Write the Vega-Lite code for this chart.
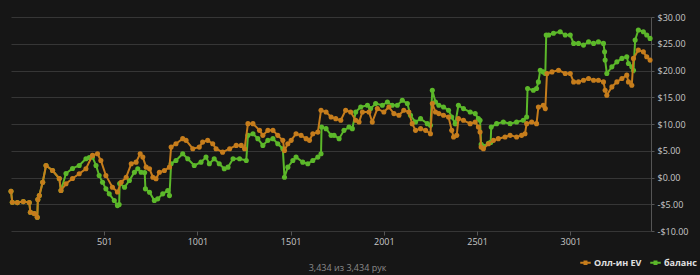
{
  "$schema": "https://vega.github.io/schema/vega-lite/v6.json",
  "width": 640,
  "height": 214,
  "autosize": {"type": "none"},
  "padding": {"left": 11, "top": 17, "right": 49, "bottom": 44},
  "background": "#161616",
  "config": {
    "view": {"stroke": null},
    "font": "Open Sans",
    "axis": {"labelFont": "Open Sans", "labelColor": "#c8c8c8", "labelFontSize": 9, "gridColor": "#363636", "gridWidth": 1, "tickColor": "#555555", "domainColor": "#555555"}
  },
  "datasets": {
    "ev": [
      {"h":1,"v":-2.57},{"h":8,"v":-4.63},{"h":35,"v":-4.69},{"h":67,"v":-4.5},{"h":99,"v":-4.69},{"h":105,"v":-6.5},{"h":126,"v":-6.75},{"h":142,"v":-7.44},{"h":145,"v":-4.13},{"h":153,"v":-3.38},{"h":171,"v":-0.88},{"h":189,"v":2.25},{"h":224,"v":1.31},{"h":260,"v":-0.19},{"h":269,"v":-2.44},{"h":296,"v":-1.18},{"h":331,"v":-0.19},{"h":367,"v":0.69},{"h":403,"v":1.63},{"h":438,"v":4.13},{"h":465,"v":4.44},{"h":483,"v":3.19},{"h":510,"v":0.38},{"h":545,"v":-1.82},{"h":572,"v":-2.72},{"h":592,"v":-0.88},{"h":619,"v":0.06},{"h":646,"v":2.57},{"h":672,"v":2.87},{"h":694,"v":4.44},{"h":708,"v":3.81},{"h":726,"v":1.93},{"h":744,"v":1.63},{"h":762,"v":0.06},{"h":779,"v":-0.24},{"h":797,"v":0.99},{"h":824,"v":1.31},{"h":851,"v":1.93},{"h":860,"v":5.68},{"h":886,"v":6.32},{"h":922,"v":7.26},{"h":940,"v":6.94},{"h":976,"v":5.38},{"h":1011,"v":5.68},{"h":1029,"v":6.62},{"h":1056,"v":6.94},{"h":1083,"v":6.32},{"h":1101,"v":5.38},{"h":1136,"v":4.74},{"h":1174,"v":5.38},{"h":1209,"v":6.0},{"h":1236,"v":6.0},{"h":1254,"v":5.38},{"h":1272,"v":10.07},{"h":1299,"v":10.07},{"h":1334,"v":8.81},{"h":1352,"v":7.88},{"h":1379,"v":8.81},{"h":1406,"v":8.81},{"h":1432,"v":7.88},{"h":1459,"v":6.94},{"h":1468,"v":5.06},{"h":1486,"v":6.32},{"h":1504,"v":6.94},{"h":1530,"v":8.19},{"h":1557,"v":7.88},{"h":1584,"v":7.26},{"h":1602,"v":6.94},{"h":1620,"v":8.19},{"h":1647,"v":8.49},{"h":1664,"v":12.56},{"h":1691,"v":12.24},{"h":1718,"v":11.31},{"h":1743,"v":11.0},{"h":1770,"v":10.69},{"h":1796,"v":12.56},{"h":1823,"v":12.24},{"h":1850,"v":10.69},{"h":1868,"v":10.37},{"h":1886,"v":12.24},{"h":1921,"v":12.24},{"h":1939,"v":10.37},{"h":1966,"v":12.88},{"h":2001,"v":12.24},{"h":2028,"v":13.18},{"h":2055,"v":11.94},{"h":2082,"v":11.63},{"h":2108,"v":12.56},{"h":2135,"v":12.24},{"h":2153,"v":10.07},{"h":2171,"v":8.81},{"h":2198,"v":9.13},{"h":2225,"v":8.81},{"h":2251,"v":8.19},{"h":2261,"v":13.82},{"h":2278,"v":12.24},{"h":2296,"v":11.94},{"h":2321,"v":11.63},{"h":2348,"v":11.31},{"h":2365,"v":8.81},{"h":2375,"v":7.56},{"h":2392,"v":7.88},{"h":2401,"v":11.0},{"h":2428,"v":10.69},{"h":2464,"v":10.07},{"h":2491,"v":10.37},{"h":2508,"v":9.43},{"h":2517,"v":8.49},{"h":2523,"v":5.68},{"h":2535,"v":5.38},{"h":2562,"v":6.32},{"h":2589,"v":6.94},{"h":2615,"v":7.26},{"h":2651,"v":7.56},{"h":2678,"v":7.88},{"h":2713,"v":7.56},{"h":2740,"v":7.88},{"h":2758,"v":8.19},{"h":2767,"v":10.07},{"h":2794,"v":10.37},{"h":2820,"v":10.07},{"h":2830,"v":13.18},{"h":2856,"v":13.5},{"h":2867,"v":12.88},{"h":2876,"v":19.44},{"h":2903,"v":19.74},{"h":2938,"v":20.06},{"h":2974,"v":19.44},{"h":3001,"v":19.44},{"h":3019,"v":17.87},{"h":3045,"v":17.87},{"h":3072,"v":18.19},{"h":3099,"v":18.51},{"h":3126,"v":18.19},{"h":3152,"v":18.19},{"h":3179,"v":17.87},{"h":3188,"v":16.31},{"h":3197,"v":15.38},{"h":3224,"v":16.93},{"h":3251,"v":17.87},{"h":3278,"v":18.51},{"h":3304,"v":19.13},{"h":3313,"v":17.87},{"h":3331,"v":17.25},{"h":3340,"v":22.26},{"h":3366,"v":23.81},{"h":3393,"v":23.49},{"h":3411,"v":22.56},{"h":3429,"v":21.94}
    ],
    "bal": [
      {"h":1,"v":-2.57},{"h":8,"v":-4.63},{"h":35,"v":-4.69},{"h":67,"v":-4.5},{"h":99,"v":-4.69},{"h":105,"v":-6.5},{"h":126,"v":-6.75},{"h":142,"v":-7.44},{"h":145,"v":-4.13},{"h":153,"v":-3.38},{"h":171,"v":-0.88},{"h":189,"v":2.25},{"h":224,"v":1.31},{"h":260,"v":-0.19},{"h":269,"v":-2.44},{"h":296,"v":0.75},{"h":331,"v":1.69},{"h":367,"v":2.25},{"h":403,"v":3.51},{"h":421,"v":3.75},{"h":438,"v":3.81},{"h":457,"v":2.25},{"h":474,"v":0.38},{"h":492,"v":-0.88},{"h":510,"v":-2.12},{"h":528,"v":-3.06},{"h":555,"v":-4.31},{"h":572,"v":-5.25},{"h":581,"v":-5.06},{"h":584,"v":-1.13},{"h":610,"v":-1.82},{"h":636,"v":-0.56},{"h":663,"v":0.99},{"h":681,"v":1.63},{"h":699,"v":0.99},{"h":718,"v":0.94},{"h":722,"v":-2.12},{"h":744,"v":-2.76},{"h":770,"v":-4.31},{"h":788,"v":-3.99},{"h":815,"v":-3.06},{"h":842,"v":-2.44},{"h":851,"v":-3.38},{"h":860,"v":2.57},{"h":886,"v":3.19},{"h":922,"v":4.44},{"h":949,"v":3.51},{"h":984,"v":2.25},{"h":1020,"v":2.87},{"h":1047,"v":3.81},{"h":1065,"v":2.57},{"h":1091,"v":3.51},{"h":1118,"v":2.57},{"h":1145,"v":1.63},{"h":1165,"v":1.93},{"h":1192,"v":3.51},{"h":1227,"v":3.51},{"h":1263,"v":3.19},{"h":1272,"v":7.88},{"h":1299,"v":8.19},{"h":1325,"v":7.26},{"h":1352,"v":6.0},{"h":1379,"v":6.94},{"h":1406,"v":7.26},{"h":1432,"v":6.32},{"h":1459,"v":5.38},{"h":1468,"v":0.06},{"h":1486,"v":1.93},{"h":1513,"v":3.19},{"h":1530,"v":3.81},{"h":1566,"v":2.87},{"h":1593,"v":2.57},{"h":1620,"v":3.19},{"h":1647,"v":3.81},{"h":1664,"v":4.44},{"h":1667,"v":9.43},{"h":1691,"v":9.13},{"h":1718,"v":7.88},{"h":1734,"v":7.88},{"h":1761,"v":7.26},{"h":1787,"v":8.81},{"h":1814,"v":9.43},{"h":1832,"v":9.13},{"h":1850,"v":12.24},{"h":1877,"v":13.18},{"h":1913,"v":13.5},{"h":1930,"v":12.88},{"h":1957,"v":13.82},{"h":1993,"v":13.5},{"h":2020,"v":14.12},{"h":2046,"v":13.5},{"h":2073,"v":13.5},{"h":2100,"v":14.44},{"h":2127,"v":13.82},{"h":2144,"v":11.63},{"h":2171,"v":10.37},{"h":2198,"v":11.0},{"h":2234,"v":10.07},{"h":2251,"v":9.75},{"h":2261,"v":16.31},{"h":2278,"v":14.12},{"h":2296,"v":13.5},{"h":2321,"v":13.18},{"h":2348,"v":12.56},{"h":2365,"v":11.31},{"h":2384,"v":10.07},{"h":2401,"v":13.5},{"h":2428,"v":12.88},{"h":2464,"v":12.24},{"h":2491,"v":11.94},{"h":2508,"v":11.0},{"h":2517,"v":10.69},{"h":2523,"v":6.19},{"h":2535,"v":5.81},{"h":2562,"v":6.38},{"h":2574,"v":6.56},{"h":2577,"v":9.43},{"h":2606,"v":10.07},{"h":2642,"v":10.37},{"h":2678,"v":10.07},{"h":2713,"v":10.37},{"h":2749,"v":10.69},{"h":2767,"v":11.31},{"h":2772,"v":16.63},{"h":2803,"v":16.31},{"h":2820,"v":16.63},{"h":2830,"v":17.87},{"h":2840,"v":20.06},{"h":2856,"v":19.74},{"h":2867,"v":19.44},{"h":2872,"v":26.63},{"h":2885,"v":26.63},{"h":2911,"v":26.95},{"h":2947,"v":27.25},{"h":2974,"v":26.63},{"h":3001,"v":26.63},{"h":3019,"v":25.07},{"h":3045,"v":25.07},{"h":3072,"v":24.75},{"h":3099,"v":25.37},{"h":3126,"v":25.07},{"h":3152,"v":25.37},{"h":3179,"v":25.07},{"h":3185,"v":23.49},{"h":3188,"v":21.94},{"h":3197,"v":19.44},{"h":3224,"v":20.68},{"h":3251,"v":21.62},{"h":3278,"v":22.26},{"h":3304,"v":22.56},{"h":3313,"v":21.32},{"h":3331,"v":20.68},{"h":3340,"v":20.06},{"h":3349,"v":25.69},{"h":3366,"v":27.56},{"h":3393,"v":27.25},{"h":3411,"v":26.63},{"h":3429,"v":26.0}
    ]
  },
  "encoding": {
    "x": {
      "field": "h", "type": "quantitative",
      "scale": {"domain": [1, 3434], "nice": false, "zero": false},
      "axis": {"values": [501, 1001, 1501, 2001, 2501, 3001], "format": "d", "grid": false, "domain": false, "tickSize": 4, "labelPadding": 2,
        "title": "3,434 из 3,434 рук", "titleFont": "Open Sans", "titleFontSize": 9, "titleFontWeight": "normal", "titleColor": "#8a8a8a", "titleX": 336, "titleY": 36, "titleBaseline": "middle", "titleAlign": "center"}
    },
    "y": {
      "field": "v", "type": "quantitative",
      "scale": {"domain": [-10, 30], "nice": false},
      "axis": {"orient": "right", "values": [-10, -5, 0, 5, 10, 15, 20, 25, 30], "labelExpr": "(datum.value < 0 ? '-' : '') + '$' + format(abs(datum.value), '.2f')", "grid": true, "domain": true, "tickSize": 3, "labelPadding": 3, "title": null}
    },
    "color": {
      "scale": {"domain": ["Олл-ин EV", "баланс"], "range": ["#c67d1c", "#5cb82a"]},
      "legend": {
        "orient": "none", "legendX": 569, "legendY": 240, "direction": "horizontal", "title": null,
        "symbolType": "M-1,-0.18L1,-0.18L1,0.18L-1,0.18Z M-0.38,-0.42L0.38,-0.42L0.38,0.42L-0.38,0.42Z",
        "symbolSize": 110, "symbolStrokeWidth": 0, "labelFont": "Open Sans", "labelFontSize": 9, "labelFontWeight": "bold", "labelColor": "#e0e0e0", "columnPadding": 8, "labelOffset": 3,
        "encode": {"symbols": {"update": {"fill": {"scale": "color", "field": "value"}, "fillOpacity": {"value": 1}}}}
      }
    }
  },
  "layer": [
    {
      "data": {"name": "bal"},
      "mark": {"type": "line", "strokeWidth": 2, "point": {"filled": true, "size": 26, "opacity": 1}},
      "encoding": {"color": {"datum": "баланс"}}
    },
    {
      "data": {"name": "ev"},
      "mark": {"type": "line", "strokeWidth": 2, "point": {"filled": true, "size": 26, "opacity": 1}},
      "encoding": {"color": {"datum": "Олл-ин EV"}}
    }
  ]
}
